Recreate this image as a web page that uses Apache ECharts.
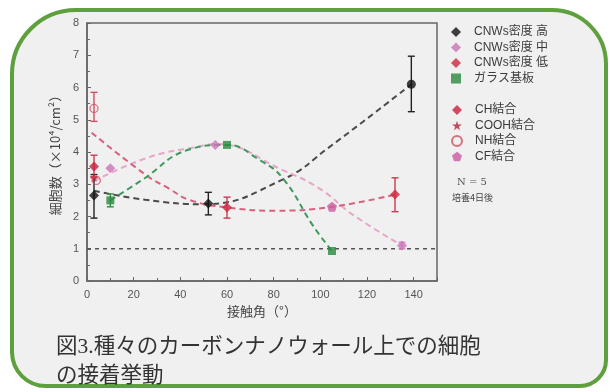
<!DOCTYPE html>
<html>
<head>
<meta charset="utf-8">
<script src="https://cdn.jsdelivr.net/npm/echarts@6/dist/echarts.min.js"></script>
<style>
  html, body { margin: 0; padding: 0; background: #ffffff; }
  #chart { width: 610px; height: 392px; }
</style>
</head>
<body>
<div id="chart"></div>
<script>
// Contact angle (deg) vs. cell count (x10^4 / cm^2), 4 days of culture, N = 5
const xTicks = [0, 20, 40, 60, 80, 100, 120, 140];
const yTicks = [0, 1, 2, 3, 4, 5, 6, 7, 8];

// Measured points: [contact angle, cell count]
const cnwHigh = [[3, 2.65], [52, 2.4], [139, 6.1]];
const cnwMid = [[10, 3.5], [55, 4.22], [135, 1.1]];
const cnwLow = [[60, 2.28], [132, 2.68]];
const glass = [[10, 2.5], [60, 4.22], [105, 0.93]];
const chBond = [[3, 3.55]];
const coohBond = [[3, 3.22]];
const nhBond = [[3, 5.35], [4, 3.12]];
const cfBond = [[105, 2.3]];

// Error bars: [contact angle, lower, upper]
const errHigh = [[3, 1.95, 3.3], [52, 2.05, 2.75], [139, 5.25, 6.97]];
const errMid = [[135, 1.0, 1.2]];
const errLow = [[60, 1.95, 2.6], [132, 2.15, 3.2]];
const errGlass = [[10, 2.3, 2.7]];
const errCh = [[3, 3.2, 3.9]];
const errNh = [[3, 4.95, 5.85]];

// Trend curves (dashed), points along each curve
const trendHigh = [[3, 2.8], [25, 2.52], [50, 2.38], [84, 3.15], [104, 4.16], [139, 6.1]];
const trendMid = [[3, 3.1], [27, 3.85], [48, 4.17], [55, 4.25], [85, 3.4], [100, 2.85], [114, 2.05], [135, 1.1]];
const trendLow = [[2, 4.6], [25, 3.3], [35, 2.87], [44, 2.51], [60, 2.28], [81, 2.18], [105, 2.3], [132, 2.68]];
const trendGlass = [[10, 2.5], [24, 3.15], [43, 4.06], [60, 4.22], [74, 3.75], [84, 3.18], [97, 1.7], [105, 0.93]];
const baselineLevel = 1;

const starPath = 'path://M50,0 L61,35 L98,35 L68,57 L79,91 L50,70 L21,91 L32,57 L2,35 L39,35 Z';
const pentagonPath = 'path://M50,0 L98,35 L79,91 L21,91 L2,35 Z';

const chart = echarts.init(document.getElementById('chart'), null, { renderer: 'canvas' });

function errorBars(data, color) {
  return {
    type: 'custom',
    data: data,
    z: 3,
    silent: true,
    encode: { x: 0, y: [1, 2] },
    renderItem: function (params, api) {
      const x = api.value(0);
      const lo = api.coord([x, api.value(1)]);
      const hi = api.coord([x, api.value(2)]);
      const cap = 3.5;
      const st = { stroke: color, lineWidth: 1.4 };
      return {
        type: 'group',
        children: [
          { type: 'line', shape: { x1: lo[0], y1: lo[1], x2: hi[0], y2: hi[1] }, style: st },
          { type: 'line', shape: { x1: lo[0] - cap, y1: lo[1], x2: lo[0] + cap, y2: lo[1] }, style: st },
          { type: 'line', shape: { x1: hi[0] - cap, y1: hi[1], x2: hi[0] + cap, y2: hi[1] }, style: st }
        ]
      };
    }
  };
}

function trend(data, color) {
  return {
    type: 'line',
    data: data,
    smooth: 0.45,
    symbol: 'none',
    silent: true,
    z: 1,
    lineStyle: { color: color, width: 2, type: [6, 4] }
  };
}

const legendText = {
  color: '#3a3a3a', fontSize: 12, padding: [0, 0, 0, 8],
  fontFamily: 'Arial, "Noto Sans CJK JP", sans-serif'
};

chart.setOption({
  backgroundColor: '#ffffff',
  animation: false,
  graphic: [
    {
      type: 'rect',
      z: -10,
      silent: true,
      shape: { x: 12, y: 10, width: 594, height: 376, r: [64, 54, 26, 34] },
      style: { fill: '#f0f0f0', stroke: '#5e9f3e', lineWidth: 4 }
    },
    {
      type: 'text', left: 457, top: 177, silent: true,
      style: { text: 'N = 5', fill: '#555', font: '10px "DejaVu Serif", serif' }
    },
    {
      type: 'text', left: 452, top: 193, silent: true,
      style: { text: '培養4日後', fill: '#444', font: '9px "Noto Sans CJK JP", sans-serif' }
    },
    {
      type: 'text', left: 56, top: 333, silent: true,
      style: {
        text: '図3.種々のカーボンナノウォール上での細胞\nの接着挙動',
        fill: '#333',
        font: '21.5px "Liberation Serif", "Noto Sans CJK JP", serif',
        lineHeight: 29
      }
    }
  ],
  legend: [
    {
      orient: 'vertical', left: 446, top: 21, itemWidth: 10, itemHeight: 10, itemGap: 3.5,
      textStyle: legendText,
      data: ['CNWs密度 高', 'CNWs密度 中', 'CNWs密度 低', 'ガラス基板']
    },
    {
      orient: 'vertical', left: 446, top: 99, itemWidth: 10, itemHeight: 10, itemGap: 3.5,
      textStyle: legendText,
      data: ['CH結合', 'COOH結合', 'NH結合', 'CF結合']
    }
  ],
  grid: {
    left: 87, right: 173, top: 23, bottom: 111,
    show: true, borderColor: '#666', borderWidth: 1.5, backgroundColor: 'transparent'
  },
  xAxis: {
    type: 'value', min: 0, max: 150, interval: 20,
    name: '接触角（°）', nameLocation: 'middle', nameGap: 22,
    nameTextStyle: { color: '#444', fontSize: 13, fontFamily: '"Noto Sans CJK JP", sans-serif' },
    axisLine: { lineStyle: { color: '#666', width: 1.5 } },
    axisTick: { inside: true, length: 4, lineStyle: { color: '#666' } },
    minorTick: { show: true, splitNumber: 2, length: 3, lineStyle: { color: '#666' } },
    axisLabel: { color: '#555', fontSize: 11, margin: 8, showMaxLabel: false, fontFamily: 'Arial, sans-serif',
      formatter: function (v) { return xTicks.indexOf(v) >= 0 ? String(v) : ''; } },
    splitLine: { show: false }
  },
  yAxis: {
    type: 'value', min: 0, max: 8, interval: 1,
    name: '細胞数（×10⁴/cm²）', nameLocation: 'middle', nameGap: 21, nameRotate: 90,
    nameTextStyle: { color: '#444', fontSize: 13, fontFamily: '"Noto Sans CJK JP", sans-serif' },
    axisLine: { show: true, lineStyle: { color: '#666', width: 1.5 } },
    axisTick: { inside: true, length: 4, lineStyle: { color: '#666' } },
    minorTick: { show: true, splitNumber: 2, length: 3, lineStyle: { color: '#666' } },
    axisLabel: { color: '#555', fontSize: 11, margin: 8, fontFamily: 'Arial, sans-serif',
      formatter: function (v) { return yTicks.indexOf(v) >= 0 ? String(v) : ''; } },
    splitLine: { show: false }
  },
  series: [
    {
      type: 'line', silent: true, symbol: 'none', z: 1,
      data: [[0, baselineLevel], [150, baselineLevel]],
      lineStyle: { color: '#555', width: 1.5, type: [4, 4] }
    },
    trend(trendHigh, '#4a4a4a'),
    trend(trendMid, '#e6a6c8'),
    trend(trendLow, '#d9607e'),
    trend(trendGlass, '#3e9a5c'),
    errorBars(errHigh, '#222'),
    errorBars(errMid, '#d48cc4'),
    errorBars(errLow, '#d0384e'),
    errorBars(errGlass, '#2f8a44'),
    errorBars(errCh, '#d0384e'),
    errorBars(errNh, '#d25060'),
    {
      name: 'CNWs密度 高', type: 'scatter', z: 5, symbol: 'diamond', symbolSize: 10,
      itemStyle: { color: '#111' },
      data: cnwHigh.map(function (p, i) { return i === 2 ? { value: p, symbol: 'circle', symbolSize: 9 } : p; })
    },
    {
      name: 'CNWs密度 中', type: 'scatter', z: 5, symbol: 'diamond', symbolSize: 10,
      itemStyle: { color: '#cc74b8' }, data: cnwMid
    },
    {
      name: 'CNWs密度 低', type: 'scatter', z: 5, symbol: 'diamond', symbolSize: 10,
      itemStyle: { color: '#d0263e' }, data: cnwLow
    },
    {
      name: 'ガラス基板', type: 'scatter', z: 5, symbol: 'rect', symbolSize: 8,
      itemStyle: { color: '#2b8a3e' }, data: glass
    },
    {
      name: 'CH結合', type: 'scatter', z: 5, symbol: 'diamond', symbolSize: 10,
      itemStyle: { color: '#c8203c' }, data: chBond
    },
    {
      name: 'COOH結合', type: 'scatter', z: 5, symbol: starPath, symbolSize: 9,
      itemStyle: { color: '#b82035' }, data: coohBond
    },
    {
      name: 'NH結合', type: 'scatter', z: 5, symbol: 'circle', symbolSize: 8,
      itemStyle: { color: 'rgba(0,0,0,0)', borderColor: '#d25060', borderWidth: 1.3 }, data: nhBond
    },
    {
      name: 'CF結合', type: 'scatter', z: 5, symbol: pentagonPath, symbolSize: 10,
      itemStyle: { color: '#cc5aa0' }, data: cfBond
    }
  ]
});
</script>
</body>
</html>
